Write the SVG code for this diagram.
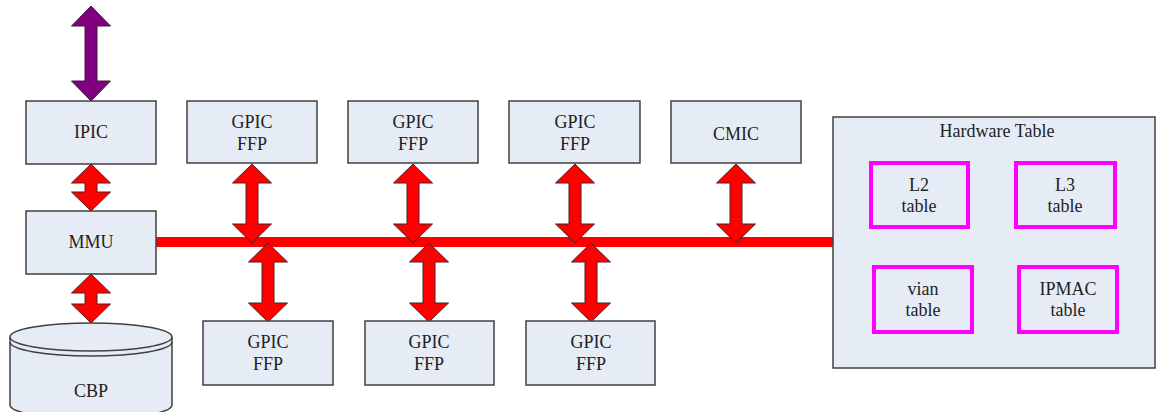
<svg xmlns="http://www.w3.org/2000/svg" width="1157" height="412" viewBox="0 0 1157 412">
  <style>
    .box { fill: #e6ecf6; stroke: #404040; stroke-width: 1.5; }
    .tbl { fill: none; stroke: #ff00ff; stroke-width: 4; }
    .lbl { font-family: "Liberation Serif", "Times New Roman", serif; font-size: 18px; fill: #222; text-anchor: middle; }
    .red { fill: #ff0000; stroke: #4a2020; stroke-width: 1; stroke-linejoin: miter; }
    .purple { fill: #800080; stroke: #3a1a3a; stroke-width: 1; }
    .bus { stroke: #ff0000; stroke-width: 10; fill: none; }
  </style>

  <!-- shared bus and double-headed arrows -->
  <g id="connectors">
    <line class="bus" x1="152" y1="242" x2="833" y2="242"/>
    <!-- external link above IPIC -->
    <path class="purple" d="M91,6 L110.5,26 L97,26 L97,81 L110.5,81 L91,101 L71.5,81 L85,81 L85,26 L71.5,26 Z"/>
    <!-- IPIC <-> MMU -->
    <path class="red" d="M91,164 L110.5,183 L97,183 L97,192 L110.5,192 L91,211 L71.5,192 L85,192 L85,183 L71.5,183 Z"/>
    <!-- MMU <-> CBP -->
    <path class="red" d="M91,274 L110.5,293 L97,293 L97,304 L110.5,304 L91,323 L71.5,304 L85,304 L85,293 L71.5,293 Z"/>
    <!-- upper blocks <-> bus -->
    <path class="red" d="M252,164 L271.5,183 L258,183 L258,224 L271.5,224 L252,243 L232.5,224 L246,224 L246,183 L232.5,183 Z"/>
    <path class="red" d="M413,164 L432.5,183 L419,183 L419,224 L432.5,224 L413,243 L393.5,224 L407,224 L407,183 L393.5,183 Z"/>
    <path class="red" d="M575,164 L594.5,183 L581,183 L581,224 L594.5,224 L575,243 L555.5,224 L569,224 L569,183 L555.5,183 Z"/>
    <path class="red" d="M736,164 L755.5,183 L742,183 L742,224 L755.5,224 L736,243 L716.5,224 L730,224 L730,183 L716.5,183 Z"/>
    <!-- bus <-> lower blocks -->
    <path class="red" d="M268,243 L287.5,262 L274,262 L274,303 L287.5,303 L268,322 L248.5,303 L262,303 L262,262 L248.5,262 Z"/>
    <path class="red" d="M429,243 L448.5,262 L435,262 L435,303 L448.5,303 L429,322 L409.5,303 L423,303 L423,262 L409.5,262 Z"/>
    <path class="red" d="M591,243 L610.5,262 L597,262 L597,303 L610.5,303 L591,322 L571.5,303 L585,303 L585,262 L571.5,262 Z"/>
  </g>

  <g id="ipic">
    <rect class="box" x="26" y="101" width="130" height="63"/>
    <text class="lbl" x="91" y="138">IPIC</text>
  </g>

  <g id="mmu">
    <rect class="box" x="26" y="211" width="130" height="63"/>
    <text class="lbl" x="91" y="248">MMU</text>
  </g>

  <g id="cbp">
    <path class="box" d="M10,337 L10,405 A81,14 0 0 0 172,405 L172,337"/>
    <ellipse class="box" cx="91" cy="337" rx="81" ry="14"/>
    <path d="M10,342 A81,14 0 0 0 172,342" fill="none" stroke="#404040" stroke-width="1.5"/>
    <text class="lbl" x="91" y="397">CBP</text>
  </g>

  <g id="gpic-top-1">
    <rect class="box" x="187" y="101" width="130" height="62"/>
    <text class="lbl" x="252" y="128">GPIC</text>
    <text class="lbl" x="252" y="150">FFP</text>
  </g>
  <g id="gpic-top-2">
    <rect class="box" x="348" y="101" width="130" height="62"/>
    <text class="lbl" x="413" y="128">GPIC</text>
    <text class="lbl" x="413" y="150">FFP</text>
  </g>
  <g id="gpic-top-3">
    <rect class="box" x="509" y="101" width="131" height="62"/>
    <text class="lbl" x="575" y="128">GPIC</text>
    <text class="lbl" x="575" y="150">FFP</text>
  </g>
  <g id="cmic">
    <rect class="box" x="671" y="101" width="130" height="62"/>
    <text class="lbl" x="736" y="140">CMIC</text>
  </g>

  <g id="gpic-bottom-1">
    <rect class="box" x="203" y="321" width="130" height="64"/>
    <text class="lbl" x="268" y="348">GPIC</text>
    <text class="lbl" x="268" y="370">FFP</text>
  </g>
  <g id="gpic-bottom-2">
    <rect class="box" x="365" y="321" width="129" height="64"/>
    <text class="lbl" x="429" y="348">GPIC</text>
    <text class="lbl" x="429" y="370">FFP</text>
  </g>
  <g id="gpic-bottom-3">
    <rect class="box" x="526" y="321" width="129" height="64"/>
    <text class="lbl" x="591" y="348">GPIC</text>
    <text class="lbl" x="591" y="370">FFP</text>
  </g>

  <g id="hardware-table">
    <rect class="box" x="833" y="117" width="322" height="251"/>
    <text class="lbl" x="997" y="137">Hardware Table</text>
    <g id="l2-table">
      <rect class="tbl" x="871" y="163" width="97" height="64"/>
      <text class="lbl" x="919" y="191">L2</text>
      <text class="lbl" x="919" y="212">table</text>
    </g>
    <g id="l3-table">
      <rect class="tbl" x="1016" y="163" width="99" height="64"/>
      <text class="lbl" x="1065" y="191">L3</text>
      <text class="lbl" x="1065" y="212">table</text>
    </g>
    <g id="vlan-table">
      <rect class="tbl" x="874" y="267" width="98" height="65"/>
      <text class="lbl" x="923" y="295">vian</text>
      <text class="lbl" x="923" y="316">table</text>
    </g>
    <g id="ipmac-table">
      <rect class="tbl" x="1019" y="267" width="98" height="65"/>
      <text class="lbl" x="1068" y="295">IPMAC</text>
      <text class="lbl" x="1068" y="316">table</text>
    </g>
  </g>
</svg>
